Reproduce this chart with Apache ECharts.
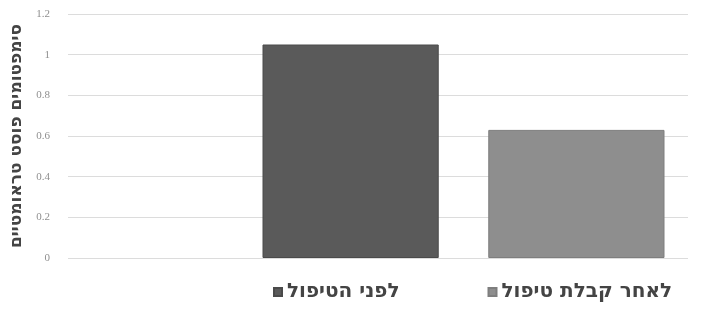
<!DOCTYPE html>
<html>
<head>
<meta charset="utf-8">
<script src="https://cdn.jsdelivr.net/npm/echarts@6/dist/echarts.min.js"></script>
<style>
html,body{margin:0;padding:0;background:#fff;}
#chart{width:717px;height:323px;}
</style>
</head>
<body>
<div id="chart"></div>
<script>
const categories = [''];
const seriesNames = ['לפני הטיפול', 'לאחר קבלת טיפול'];
const beforeValues = [1.05];
const afterValues = [0.63];
const yTicks = [0, 0.2, 0.4, 0.6, 0.8, 1, 1.2];
const yAxisTitle = 'סימפטומים פוסט טראומטיים';

const chart = echarts.init(document.getElementById('chart'));
const yMin = yTicks[0], yMax = yTicks[yTicks.length - 1], yInt = yTicks[1] - yTicks[0];
chart.setOption({
  animation: false,
  backgroundColor: '#ffffff',
  grid: [
    { left: 67, right: 29, top: 14, bottom: 65 },
    { left: 263, right: 53, top: 14, bottom: 65 }
  ],
  xAxis: [
    { gridIndex: 0, type: 'category', data: categories, show: false },
    { gridIndex: 1, type: 'category', data: categories, show: false }
  ],
  yAxis: [
    {
      gridIndex: 0, type: 'value', min: yMin, max: yMax, interval: yInt,
      axisLine: { show: false }, axisTick: { show: false },
      axisLabel: { color: '#8f8f8f', fontSize: 11, fontFamily: 'Liberation Serif', margin: 18,
        formatter: v => String(+v.toFixed(1)) },
      splitLine: { lineStyle: { color: '#dcdcdc', width: 1 } },
      name: yAxisTitle, nameLocation: 'middle', nameRotate: 90, nameGap: 43,
      nameTextStyle: { color: '#444444', fontSize: 17, fontWeight: 'bold', fontFamily: 'DejaVu Sans' }
    },
    { gridIndex: 1, type: 'value', min: yMin, max: yMax, interval: yInt, show: false, splitLine: { show: false } }
  ],
  legend: {
    left: 268, top: 277, itemWidth: 8, itemHeight: 8, itemGap: 88,
    icon: 'rect',
    textStyle: { color: '#444444', fontSize: 20, fontWeight: 'bold', fontFamily: 'DejaVu Sans' },
    data: seriesNames
  },
  series: [
    {
      name: seriesNames[0], type: 'bar', xAxisIndex: 1, yAxisIndex: 1, data: beforeValues,
      barWidth: 177, barGap: '28%', barCategoryGap: 0,
      itemStyle: { color: '#5a5a5a', borderColor: '#4a4a4a', borderWidth: 1 }
    },
    {
      name: seriesNames[1], type: 'bar', xAxisIndex: 1, yAxisIndex: 1, data: afterValues,
      barWidth: 177, barGap: '28%', barCategoryGap: 0,
      itemStyle: { color: '#8e8e8e', borderColor: '#7e7e7e', borderWidth: 1 }
    }
  ]
});
</script>
</body>
</html>
